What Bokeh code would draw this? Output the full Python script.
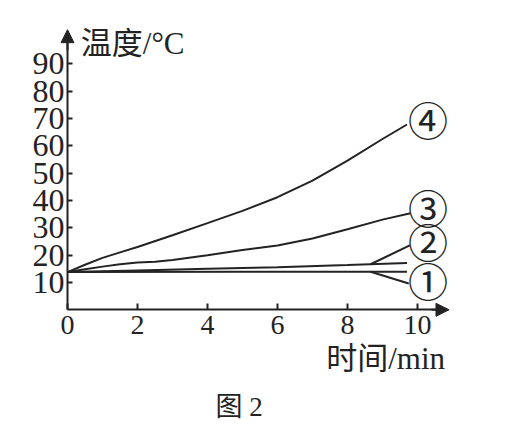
import numpy as np
from bokeh.plotting import figure
from bokeh.models import Range1d, FixedTicker, Label, Arrow, NormalHead, ColumnDataSource
from bokeh.core.properties import value
from bokeh.embed import file_html
from bokeh.resources import INLINE

# ---- data ----
time_1 = [0, 5, 9.7]
temp_1 = [13.8, 13.9, 13.9]
time_2 = [0, 2, 4, 6, 8, 9.7]
temp_2 = [13.8, 14.4, 15.0, 15.6, 16.4, 17.1]
time_3 = [0, 0.5, 1, 1.5, 2, 2.5, 3, 4, 5, 6, 7, 8, 9, 9.8]
temp_3 = [13.8, 14.8, 15.8, 16.7, 17.3, 17.6, 18.2, 20.0, 21.9, 23.5, 26.1, 29.5, 33.0, 35.3]
time_4 = [0, 0.5, 1, 1.5, 2, 3, 4, 5, 6, 7, 8, 9, 9.7]
temp_4 = [13.8, 16.5, 19.0, 21.0, 23.0, 27.3, 31.7, 36.2, 41.2, 47.3, 54.6, 62.5, 67.8]
series_labels = ["①", "②", "③", "④"]
x_ticks = [0, 2, 4, 6, 8, 10]
y_ticks = [10, 20, 30, 40, 50, 60, 70, 80, 90]

# ---- layout constants ----
INK = "#232323"
SERIF = "Liberation Serif"
MIXED = "Liberation Serif, Noto Sans CJK SC"
PX_X = 35.0      # pixels per minute
PX_Y = 2.733     # pixels per degree
W, H = 495, 421
ORIGIN_X = 67.0   # pixel column of the temperature axis
ORIGIN_Y = 309.3  # pixel row of the time axis
label_x = [10.3, 10.3, 10.3, 10.3]
label_y = [9.9, 23.9, 36.5, 68.6]

p = figure(width=W, height=H, output_backend="svg", toolbar_location=None,
           x_range=Range1d(-ORIGIN_X / PX_X, (W - ORIGIN_X) / PX_X),
           y_range=Range1d(-(H - ORIGIN_Y) / PX_Y, ORIGIN_Y / PX_Y),
           min_border_left=0, min_border_bottom=0, min_border_top=0, min_border_right=0,
           title=None)
p.outline_line_color = None
p.grid.visible = False
p.background_fill_color = "white"
p.border_fill_color = "white"

for ax in (p.xaxis[0], p.yaxis[0]):
    ax.axis_line_color = INK
    ax.axis_line_width = 2
    ax.major_tick_line_color = INK
    ax.major_tick_line_width = 2
    ax.major_tick_out = 0
    ax.minor_tick_line_color = None
    ax.major_label_text_font = SERIF
    ax.major_label_text_color = INK
    ax.fixed_location = 0

p.xaxis.ticker = FixedTicker(ticks=x_ticks)
p.yaxis.ticker = FixedTicker(ticks=y_ticks)
p.xaxis.major_tick_in = 6
p.yaxis.major_tick_in = 5
p.xaxis.major_label_text_font_size = "28px"
p.yaxis.major_label_text_font_size = "32px"
p.xaxis.major_label_standoff = 6
p.yaxis.major_label_standoff = 3
p.xaxis.bounds = (0, 10.6)
p.yaxis.bounds = (0, 98)

# axis arrow heads
p.add_layout(Arrow(end=NormalHead(size=13, fill_color=INK, line_color=INK, line_width=1),
                   x_start=0, y_start=95, x_end=0, y_end=102.5,
                   line_color=INK, line_width=2))
p.add_layout(Arrow(end=NormalHead(size=13, fill_color=INK, line_color=INK, line_width=1),
                   x_start=10.4, y_start=0, x_end=10.9, y_end=0,
                   line_color=INK, line_width=2))

# curves
for t, v in ((time_1, temp_1), (time_2, temp_2), (time_3, temp_3), (time_4, temp_4)):
    p.line(t, v, line_color=INK, line_width=2)

# leader lines for series 1 and 2
lead_x0 = 8.66
p.segment(x0=[lead_x0, lead_x0],
          y0=[float(np.interp(lead_x0, time_1, temp_1)), float(np.interp(lead_x0, time_2, temp_2))],
          x1=[label_x[0] - 0.55, label_x[1] - 0.52],
          y1=[label_y[0] - 0.3, label_y[1] - 0.3],
          line_color=INK, line_width=2)

src = ColumnDataSource(dict(x=label_x, y=label_y, t=series_labels))
p.text(x="x", y="y", text="t", source=src, text_align="center", text_baseline="middle",
       y_offset=-3, text_font=value("Noto Sans CJK SC"), text_font_size="40px", text_color=INK)

p.add_layout(Label(x=0.38, y=97.3, text="温度/°C", text_baseline="middle", text_align="left",
                   text_font=MIXED, text_font_size="31px", text_color=INK))
p.add_layout(Label(x=9.09, y=-18.0, text="时间/min", text_baseline="middle", text_align="center",
                   text_font=MIXED, text_font_size="31px", text_color=INK))
p.add_layout(Label(x=5.0, y=-35.4, text="图  2", text_baseline="middle", text_align="center",
                   text_font=MIXED, text_font_size="27px", text_color=INK))

open("out.html", "w").write(file_html(p, INLINE))
